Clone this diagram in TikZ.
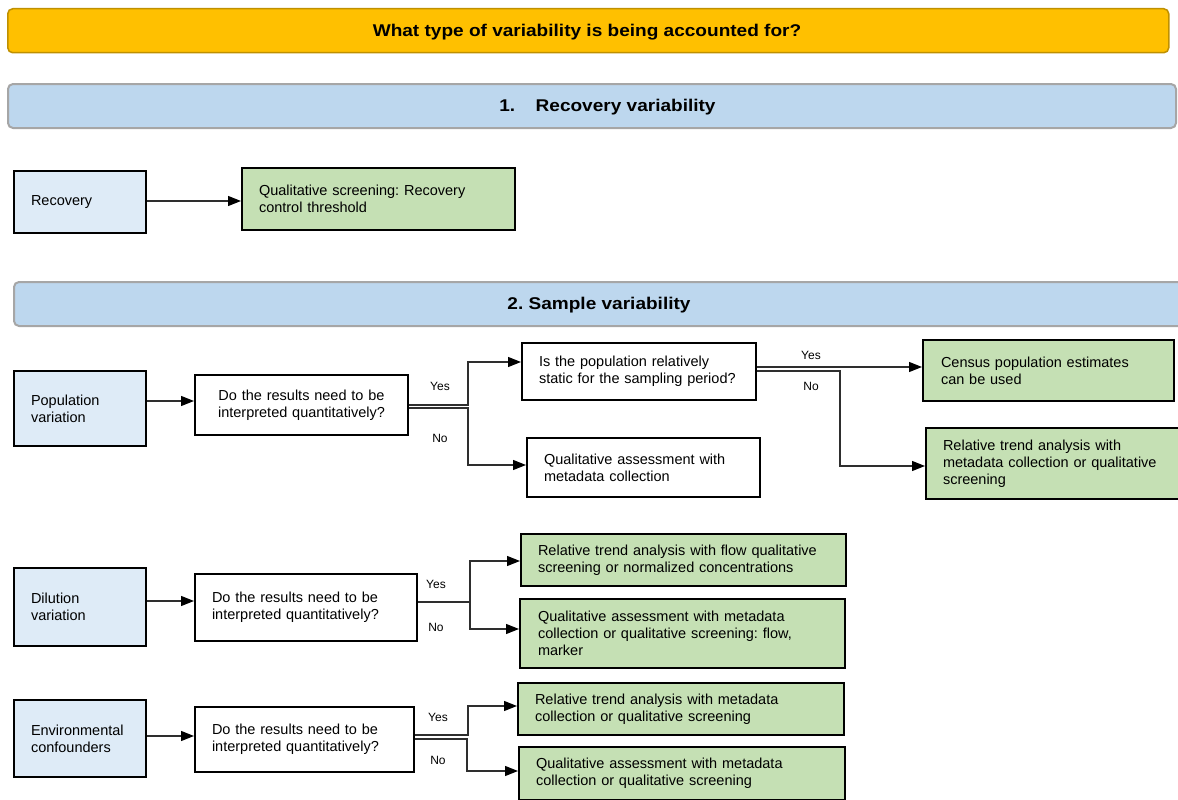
\documentclass[tikz,border=0pt]{standalone}
\usepackage{fontspec}
\setmainfont{Liberation Sans}
\newfontfamily\headfont{Liberation Sans}[FakeStretch=1.12]
\usetikzlibrary{arrows.meta}
\definecolor{titleyellow}{HTML}{FFC000}
\definecolor{titleborder}{HTML}{BF9000}
\definecolor{barblue}{HTML}{BDD7EE}
\definecolor{bargray}{HTML}{A6A6A6}
\definecolor{lightblue}{HTML}{DEEBF7}
\definecolor{boxgreen}{HTML}{C5E0B4}
\definecolor{linecol}{HTML}{2E2E2E}
\frenchspacing
\tikzset{
  titlebar/.style={draw=titleborder, fill=titleyellow, line width=1.5pt, rounded corners=5pt, anchor=north west, inner sep=0pt},
  sectionbar/.style={draw=bargray, fill=barblue, line width=2pt, rounded corners=5pt, anchor=north west, inner sep=0pt},
  bartext/.style={font=\headfont\fontsize{17}{20}\selectfont\bfseries, inner sep=0pt, anchor=base},
  basebox/.style={draw=black, line width=2pt, anchor=north west, inner xsep=17pt, inner ysep=0pt, align=left, font=\fontsize{14.5}{17}\selectfont},
  catbox/.style={basebox, fill=lightblue},
  qbox/.style={basebox, fill=white},
  greenbox/.style={basebox, fill=boxgreen},
  arr/.style={draw=linecol, line width=1.3pt, -{Triangle[length=13pt,width=10pt,color=black]}},
  lbl/.style={font=\fontsize{12}{14}\selectfont, inner sep=0pt}
}
\begin{document}
\begin{tikzpicture}[x=1pt,y=-1pt]
\useasboundingbox (0,0) rectangle (1178,800);
\clip (0,0) rectangle (1178,800);

% title and section bars
\node[titlebar, minimum width=1161pt, minimum height=44pt] (title) at (7,8) {};
\node[bartext] (titlet) at (587,37) {What type of variability is being accounted for?};
\node[sectionbar, minimum width=1168pt, minimum height=44pt] (bar1) at (7,83) {};
\node[bartext] (bar1t) at (607.5,111) {1.\hspace{1.2em}Recovery variability};
\node[sectionbar, minimum width=1190pt, minimum height=44pt] (bar2) at (13,281) {};
\node[bartext] (bar2t) at (599,309) {2. Sample variability};

% recovery
\node[catbox, minimum width=132pt, minimum height=62pt, text width=98pt] (rec) at (13,170) {Recovery};
\node[greenbox, minimum width=273pt, minimum height=62pt, text width=239pt] (recg) at (241,167) {Qualitative screening: Recovery\\control threshold};
\draw[arr] (rec.east |- 0,201) -- (recg.west |- 0,201);

% population
\node[catbox, minimum width=132pt, minimum height=75pt, text width=98pt] (pop) at (13,370) {Population\\variation};
\node[qbox, minimum width=213pt, minimum height=60pt, text width=179pt, align=center] (q1) at (194,374) {Do the results need to be\\interpreted quantitatively?};
\node[qbox, minimum width=234pt, minimum height=57pt, text width=200pt] (static) at (521,342) {Is the population relatively\\static for the sampling period?};
\node[qbox, minimum width=233pt, minimum height=59pt, text width=199pt] (qualmeta) at (526,437) {Qualitative assessment with\\metadata collection};
\node[greenbox, minimum width=251pt, minimum height=61pt, text width=215pt, inner xsep=18pt] (census) at (922,339) {Census population estimates\\can be used};
\node[greenbox, minimum width=270pt, minimum height=71pt, text width=236pt] (reltrend) at (925,427) {Relative trend analysis with\\metadata collection or qualitative\\screening};
\draw[arr] (pop.east |- 0,401) -- (q1.west |- 0,401);
\draw[arr] (q1.east |- 0,405) -- (468,405) |- (static.west |- 0,362);
\draw[arr] (q1.east |- 0,408) -- (468,408) |- (qualmeta.west |- 0,465);
\draw[arr] (static.east |- 0,367) -- (census.west |- 0,367);
\draw[arr] (static.east |- 0,371) -- (840,371) |- (reltrend.west |- 0,466);
\node[lbl] (y1) at (440,386) {Yes};
\node[lbl] (n1) at (440,438) {No};
\node[lbl] (y2) at (811,355) {Yes};
\node[lbl] (n2) at (811,386) {No};

% dilution
\node[catbox, minimum width=132pt, minimum height=78pt, text width=98pt] (dil) at (13,567) {Dilution\\variation};
\node[qbox, minimum width=222pt, minimum height=67pt, text width=188pt] (q2) at (194,573) {Do the results need to be\\interpreted quantitatively?};
\node[greenbox, minimum width=325pt, minimum height=52pt, text width=291pt] (dg1) at (520,533) {Relative trend analysis with flow qualitative\\screening or normalized concentrations};
\node[greenbox, minimum width=325pt, minimum height=69pt, text width=289pt, inner xsep=18pt] (dg2) at (519,598) {Qualitative assessment with metadata\\collection or qualitative screening: flow,\\marker};
\draw[arr] (dil.east |- 0,601) -- (q2.west |- 0,601);
\draw[arr] (q2.east |- 0,602) -- (470,602) |- (dg1.west |- 0,561);
\draw[arr] (q2.east |- 0,602) -- (470,602) |- (dg2.west |- 0,629);
\node[lbl] (y3) at (436,584) {Yes};
\node[lbl] (n3) at (436,627) {No};

% environmental
\node[catbox, minimum width=132pt, minimum height=77pt, text width=98pt] (env) at (13,699) {Environmental\\confounders};
\node[qbox, minimum width=219pt, minimum height=65pt, text width=185pt] (q3) at (194,706) {Do the results need to be\\interpreted quantitatively?};
\node[greenbox, minimum width=326pt, minimum height=52pt, text width=292pt] (eg1) at (517,682) {Relative trend analysis with metadata\\collection or qualitative screening};
\node[greenbox, minimum width=326pt, minimum height=53pt, text width=292pt] (eg2) at (518,746) {Qualitative assessment with metadata\\collection or qualitative screening};
\draw[arr] (env.east |- 0,736) -- (q3.west |- 0,736);
\draw[arr] (q3.east |- 0,735) -- (468,735) |- (eg1.west |- 0,706);
\draw[arr] (q3.east |- 0,739) -- (467,739) |- (eg2.west |- 0,771);
\node[lbl] (y4) at (438,717) {Yes};
\node[lbl] (n4) at (438,760) {No};
\end{tikzpicture}
\end{document}
